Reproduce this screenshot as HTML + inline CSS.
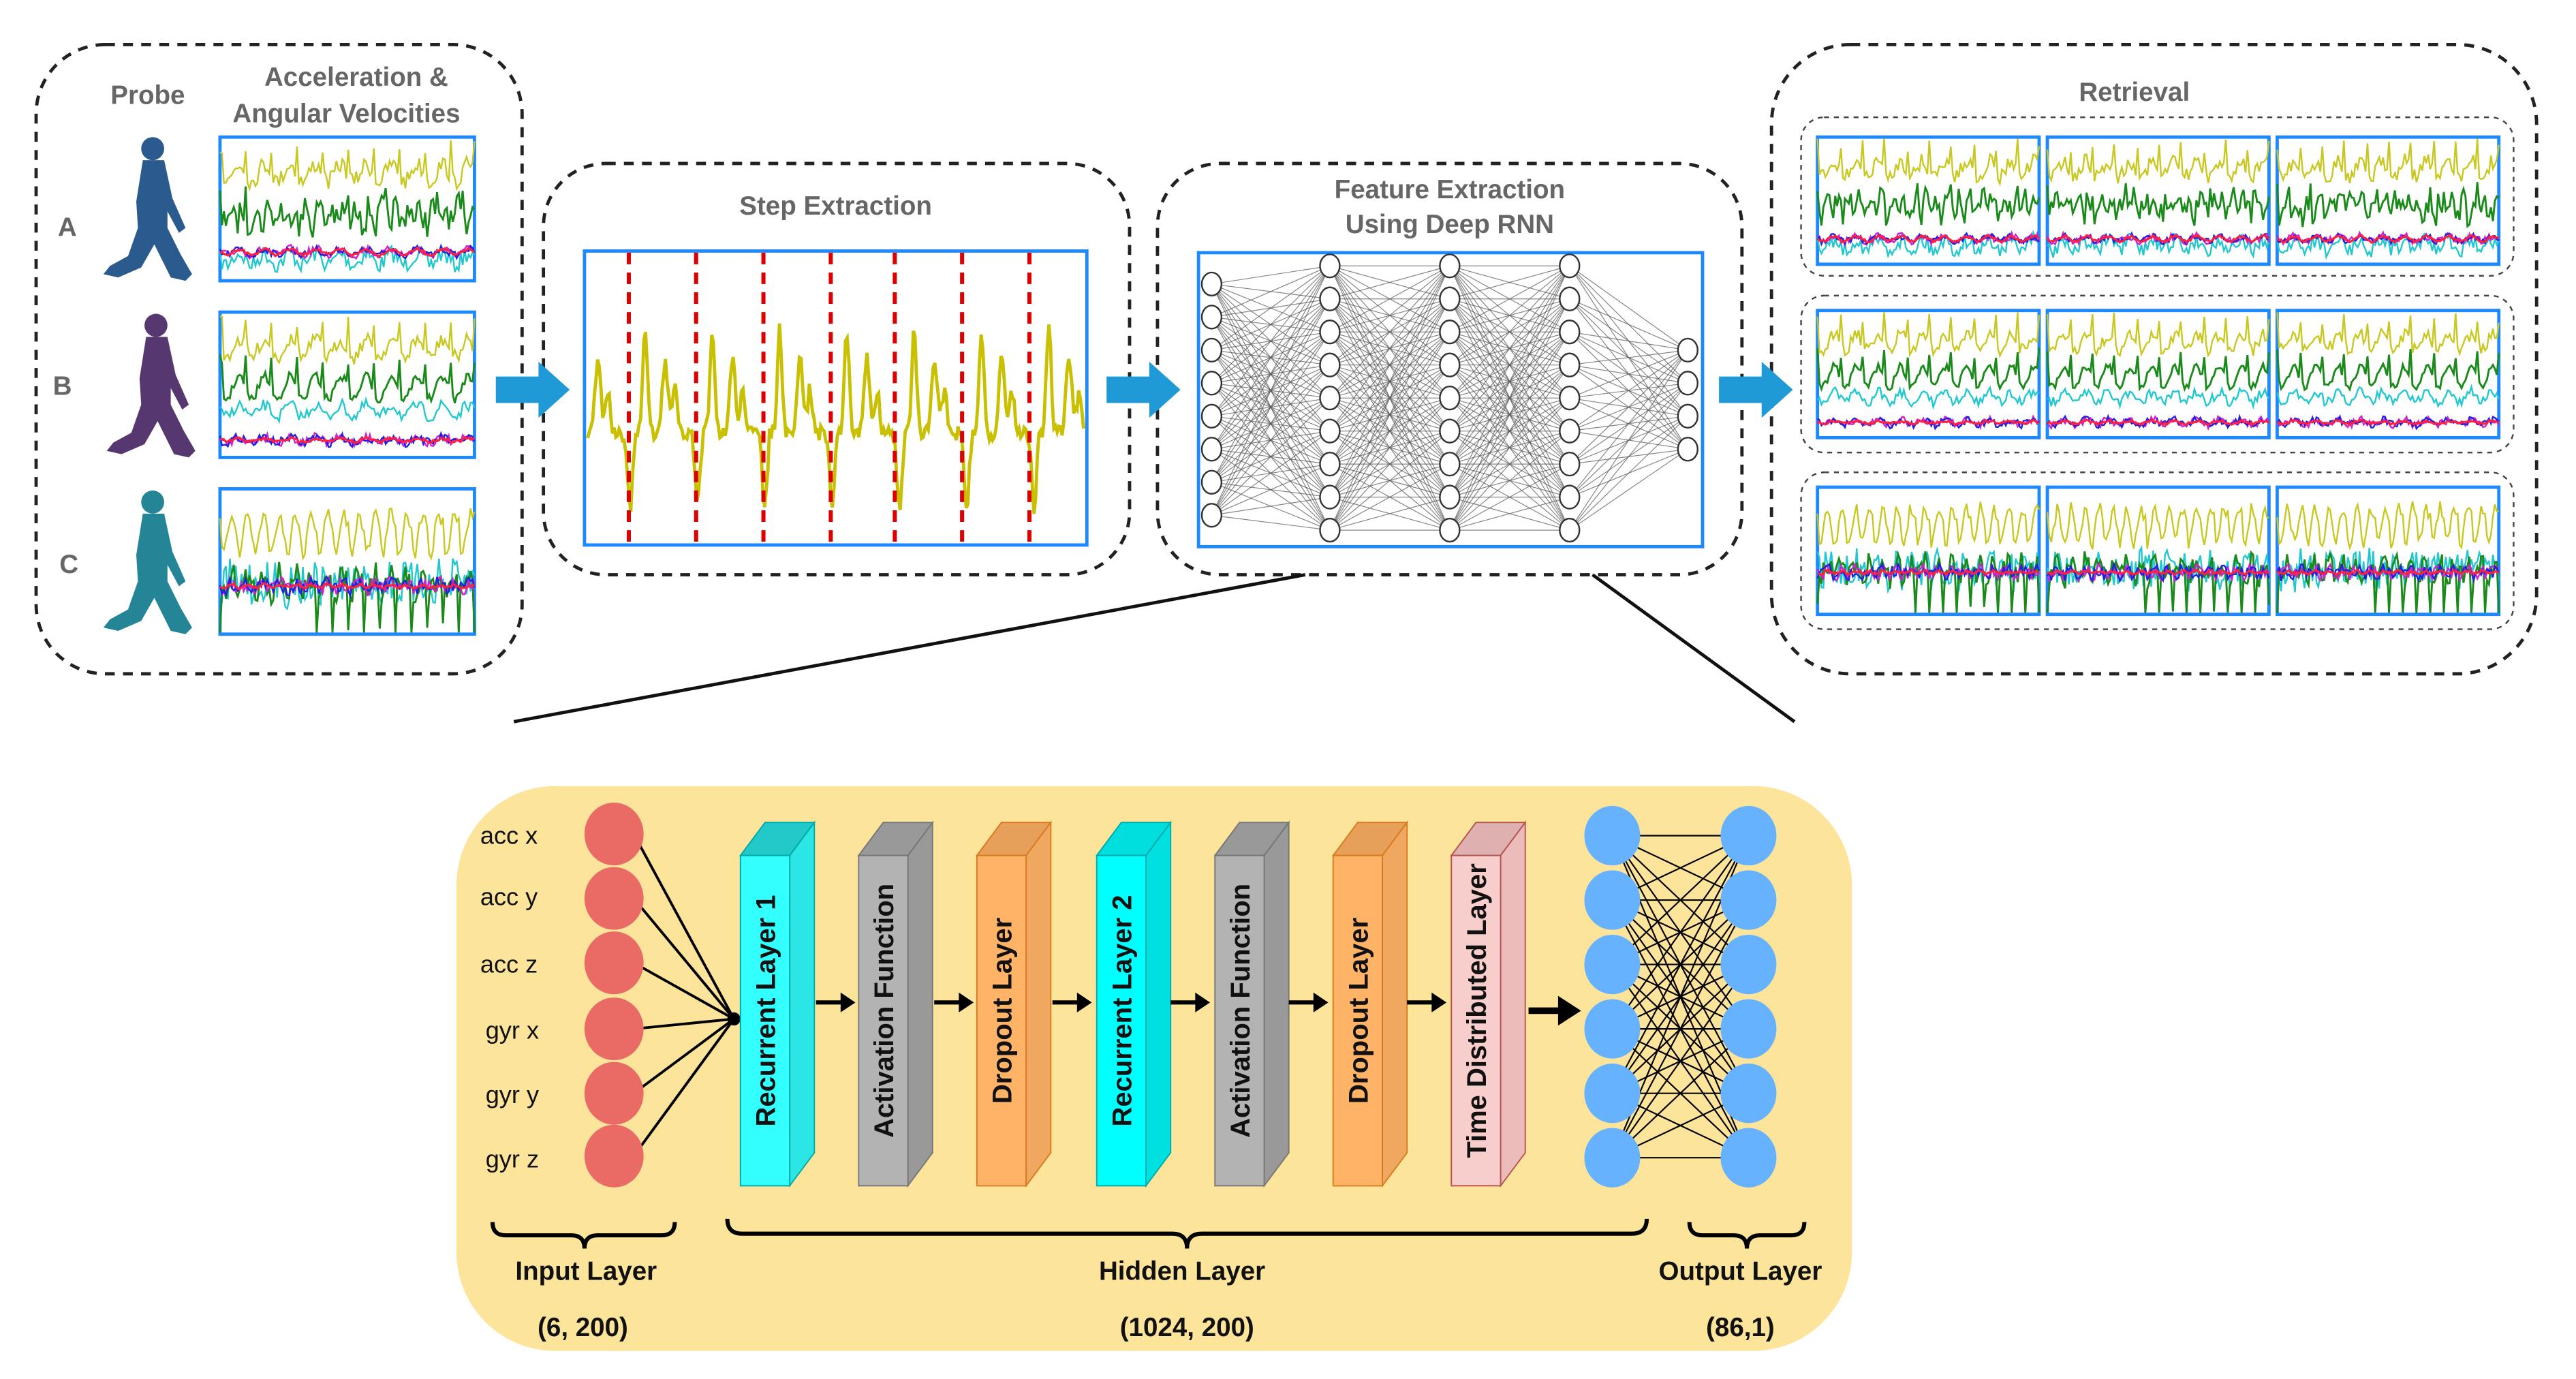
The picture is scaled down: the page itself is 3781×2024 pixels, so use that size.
<!DOCTYPE html>
<html><head><meta charset="utf-8"><style>
html,body{margin:0;padding:0;background:#fff;width:3781px;height:2024px;overflow:hidden}
svg{display:block}
.t{font-family:"Liberation Sans",Arial,sans-serif;font-weight:bold;fill:#666;text-anchor:middle}
.b{font-family:"Liberation Sans",Arial,sans-serif;fill:#111;text-anchor:middle}
</style></head><body>
<svg id="s" width="3781" height="2024" viewBox="0 0 1569 835" preserveAspectRatio="none" xmlns="http://www.w3.org/2000/svg">
<defs>
<g id="walker"><circle cx="33" cy="8" r="7"/><path d="M27,15 L40,15 L45,38 L53,56 L49,59 L42,46 L42,56 L50,72 L57,84 L53,88 L44,86 L34,66 L26,80 L12,86 L3,84 L7,79 L18,73 L24,56 L23,40 Z"/></g>
</defs>
<g fill="none" stroke="#222" stroke-width="2" stroke-dasharray="6,5">
<rect x="22" y="27" width="296" height="381" rx="42"/>
<rect x="331" y="99" width="357" height="249" rx="38"/>
<rect x="705" y="99" width="356" height="249" rx="38"/>
<rect x="1079" y="27" width="466" height="381" rx="48"/>
</g>
<g fill="none" stroke="#444" stroke-width="1" stroke-dasharray="3,3">
<rect x="1097" y="71" width="434" height="96" rx="14"/>
<rect x="1097" y="179" width="434" height="95" rx="14"/>
<rect x="1097" y="286" width="434" height="95" rx="14"/>
</g>
<text class="t" x="90" y="63" font-size="16">Probe</text>
<text class="t" x="217" y="52" font-size="16">Acceleration &amp;</text>
<text class="t" x="211" y="74" font-size="16">Angular Velocities</text>
<text class="t" x="41" y="143" font-size="16">A</text>
<text class="t" x="38" y="239" font-size="16">B</text>
<text class="t" x="42" y="347" font-size="16">C</text>
<text class="t" x="509" y="130" font-size="16">Step Extraction</text>
<text class="t" x="883" y="120" font-size="16">Feature Extraction</text>
<text class="t" x="883" y="141" font-size="16">Using Deep RNN</text>
<text class="t" x="1300" y="61" font-size="16">Retrieval</text>
<use href="#walker" x="60" y="82" fill="#2a5a8e"/>
<use href="#walker" x="62" y="189" fill="#57376f"/>
<use href="#walker" x="60" y="296" fill="#238596"/>
<g fill="#1f9ad6">
<path d="M302,228 L328,228 L328,219 L347,236 L328,253 L328,244 L302,244 Z"/>
<path d="M674,228 L700,228 L700,219 L719,236 L700,253 L700,244 L674,244 Z"/>
<path d="M1047,228 L1073,228 L1073,219 L1092,236 L1073,253 L1073,244 L1047,244 Z"/>
</g>
<g id="plots"></g>
<g id="nn"></g>
<line x1="795" y1="348" x2="313" y2="437" stroke="#111" stroke-width="2"/>
<line x1="970" y1="348" x2="1093" y2="437" stroke="#111" stroke-width="2"/>
<rect x="278" y="476" width="850" height="342" rx="60" fill="#fde49b"/>
<g id="inp"></g>
<g id="bars"></g>
<g font-size="15" class="b">
<text x="310" y="511">acc x</text><text x="310" y="548">acc y</text><text x="310" y="589">acc z</text>
<text x="312" y="629">gyr x</text><text x="312" y="668">gyr y</text><text x="312" y="707">gyr z</text>
</g>
<g fill="none" stroke="#000" stroke-width="2.5">
<path d="M300,740 q0,8 8,8 h40 q8,0 8,8 q0,-8 8,-8 h39 q8,0 8,-8"/>
<path d="M443,738 q0,9 9,9 h262 q9,0 9,9 q0,-9 9,-9 h262 q9,0 9,-9"/>
<path d="M1029,740 q0,8 8,8 h19 q8,0 8,8 q0,-8 8,-8 h19 q8,0 8,-8"/>
</g>
<g class="b" font-weight="bold" font-size="16">
<text x="357" y="775">Input Layer</text>
<text x="720" y="775">Hidden Layer</text>
<text x="1060" y="775">Output Layer</text>
<text x="355" y="809">(6, 200)</text>
<text x="723" y="809">(1024, 200)</text>
<text x="1060" y="809">(86,1)</text>
</g>
</svg>
<script>
var NS="http://www.w3.org/2000/svg";
function el(p,n,a){var e=document.createElementNS(NS,n);for(var k in a)e.setAttribute(k,a[k]);p.appendChild(e);return e;}
var seed=7;function rnd(){seed=(seed*16807)%2147483647;return seed/2147483647;}
var P=document.getElementById('plots');
function line(x,y,w,h,per,base,amp,spike,noise,col,sw){
 var pts=[];var n=Math.round(w/1.2);
 for(var i=0;i<=n;i++){var t=i/n;var ph=(t*w/per)%1;
  var v=base+amp*Math.sin(ph*6.28)+(ph<0.08?-spike:0)+(rnd()-0.5)*noise;
  pts.push((x+t*w).toFixed(1)+","+Math.max(y+1,Math.min(y+h-1,y+v*h)).toFixed(1));}
 el(P,'polyline',{points:pts.join(" "),fill:"none",stroke:col,"stroke-width":sw});
}
function plot(x,y,w,h,type){
 el(P,'rect',{x:x,y:y,width:w,height:h,fill:"#fff",stroke:"#1e88ff","stroke-width":2});
 var per=type=='C'?w/16:w/10;
 if(type=='A'){line(x,y,w,h,per,0.85,0.04,0,0.12,"#22c8d0",1);
  line(x,y,w,h,per/2,0.55,0.06,0.12,0.2,"#1a8a1a",1.2);line(x,y,w,h,per,0.25,0.06,0.2,0.12,"#c8c820",1);
  line(x,y,w,h,per,0.8,0.02,0,0.06,"#d020d0",1);line(x,y,w,h,per,0.8,0.02,0,0.05,"#2020e0",1);line(x,y,w,h,per,0.8,0.02,0,0.02,"#ff2040",1.3);}
 else if(type=='B'){line(x,y,w,h,per,0.68,0.04,0,0.08,"#22c8d0",1);
  line(x,y,w,h,per,0.52,0.08,0.2,0.06,"#1a8a1a",1.2);line(x,y,w,h,per,0.25,0.06,0.2,0.1,"#c8c820",1);
  line(x,y,w,h,per,0.88,0.02,0,0.06,"#d020d0",1);line(x,y,w,h,per,0.88,0.02,0,0.06,"#2020e0",1);line(x,y,w,h,per,0.88,0.01,0,0.02,"#ff2040",1.3);}
 else {line(x,y,w,h,per,0.3,0.14,0.1,0.1,"#c8c820",1);line(x,y,w,h,per,0.65,0.03,0,0.3,"#22c8d0",1);
  line(x,y,w,h,per,0.65,0.06,-0.35,0.18,"#1a8a1a",1.2);
  line(x,y,w,h,per,0.67,0.02,0,0.1,"#d020d0",1);line(x,y,w,h,per,0.67,0.02,0,0.1,"#2020e0",1);line(x,y,w,h,per,0.67,0.01,0,0.02,"#ff2040",1.3);}
}
plot(134,83,155,87,'A');plot(134,189,155,88,'B');plot(134,296,155,88,'C');
var rows=[[83,77,'A'],[188,77,'B'],[295,77,'C']],cols=[1107,1247,1387];
rows.forEach(function(r){cols.forEach(function(c){plot(c,r[0],135,r[1],r[2]);});});
el(P,'rect',{x:356,y:152,width:306,height:178,fill:"#fff",stroke:"#1e88ff","stroke-width":2});
var pts=[];for(var i=0;i<=300;i++){var t=i/300,x=358+t*302,ph=(t*302/41+0.3)%1;
 var v=0.62-0.35*Math.exp(-Math.pow((ph-0.15)/0.05,2))-0.25*Math.exp(-Math.pow((ph-0.45)/0.06,2))-0.15*Math.exp(-Math.pow((ph-0.6)/0.05,2))+0.25*Math.exp(-Math.pow((ph-0.93)/0.05,2))+(rnd()-0.5)*0.05;
 pts.push(x.toFixed(1)+","+(152+v*178).toFixed(1));}
el(P,'polyline',{points:pts.join(" "),fill:"none",stroke:"#c8c000","stroke-width":2});
[383,424,465,506,545,586,627].forEach(function(x){el(P,'line',{x1:x,y1:153,x2:x,y2:330,stroke:"#d00","stroke-width":2.5,"stroke-dasharray":"7,5"});});
var N=document.getElementById('nn');
el(N,'rect',{x:730,y:153,width:307,height:178,fill:"#fff",stroke:"#1e88ff","stroke-width":2});
function col(x,n,y0,y1){var a=[];for(var i=0;i<n;i++)a.push([x,y0+(n==1?0:i*(y1-y0)/(n-1))]);return a;}
var L=[col(738,8,172,312),col(810,9,161,321),col(883,9,161,321),col(956,9,161,321),col(1028,4,212,272)];
for(var k=0;k<4;k++)L[k].forEach(function(a){L[k+1].forEach(function(b){el(N,'line',{x1:a[0],y1:a[1],x2:b[0],y2:b[1],stroke:"#555","stroke-width":0.5,opacity:0.7});});});
L.forEach(function(c){c.forEach(function(p){el(N,'ellipse',{cx:p[0],cy:p[1],rx:6,ry:7,fill:"#fff",stroke:"#333","stroke-width":1});});});
var I=document.getElementById('inp');var iy=[505,544,583,623,662,700];
iy.forEach(function(y){el(I,'line',{x1:386,y1:y,x2:447,y2:617,stroke:"#000","stroke-width":1.6});});
el(I,'circle',{cx:447,cy:617,r:4,fill:"#000"});
iy.forEach(function(y){el(I,'ellipse',{cx:374,cy:y,rx:18,ry:19,fill:"#ea6b66"});});
var oy=[506,545,584,623,662,701];
oy.forEach(function(a){oy.forEach(function(b){el(I,'line',{x1:982,y1:a,x2:1065,y2:b,stroke:"#000","stroke-width":0.9});});});
oy.forEach(function(y){el(I,'ellipse',{cx:982,cy:y,rx:17,ry:18,fill:"#66b2ff"});el(I,'ellipse',{cx:1065,cy:y,rx:17,ry:18,fill:"#66b2ff"});});
var B=document.getElementById('bars');
var bars=[[451,"#33ffff","#2ce6e6","#23c8c8","#0aa","Recurrent Layer 1"],[523,"#b3b3b3","#999","#999","#777","Activation Function"],[595,"#ffb366","#f0a860","#e6a05a","#d97a1f","Dropout Layer"],[668,"#00ffff","#00e0e0","#00dede","#0aa","Recurrent Layer 2"],[740,"#b3b3b3","#999","#999","#777","Activation Function"],[812,"#ffb366","#f0a860","#e6a05a","#d97a1f","Dropout Layer"],[884,"#f8cecc","#ecbcbb","#dfb0b0","#b85450","Time Distributed Layer"]];
bars.forEach(function(b){var x=b[0],t=518,bt=718,w=30,d=15,h=20;
 el(B,'path',{d:"M"+x+","+t+" L"+(x+d)+","+(t-h)+" L"+(x+w+d)+","+(t-h)+" L"+(x+w)+","+t+" Z",fill:b[3],stroke:b[4],"stroke-width":0.8});
 el(B,'path',{d:"M"+(x+w)+","+t+" L"+(x+w+d)+","+(t-h)+" L"+(x+w+d)+","+(bt-h)+" L"+(x+w)+","+bt+" Z",fill:b[2],stroke:b[4],"stroke-width":0.8});
 el(B,'rect',{x:x,y:t,width:w,height:bt-t,fill:b[1],stroke:b[4],"stroke-width":0.8});
 var tx=el(B,'text',{x:0,y:0,transform:"translate("+(x+w/2+6)+",612) rotate(-90)","font-size":"16.5","font-family":"Liberation Sans,Arial,sans-serif","font-weight":"bold","text-anchor":"middle",fill:"#111"});tx.textContent=b[5];
});
[[497,521],[569,593],[641,665],[713,737],[785,809],[857,881]].forEach(function(a){el(B,'line',{x1:a[0],y1:607,x2:a[1]-2,y2:607,stroke:"#000","stroke-width":2.5});el(B,'path',{d:"M"+a[1]+",607 l-9,-6 v12 z",fill:"#000"});});
el(B,'line',{x1:931,y1:612,x2:950,y2:612,stroke:"#000","stroke-width":4});el(B,'path',{d:"M963,612 l-14,-9 v18 z",fill:"#000"});
</script>
</body></html>
